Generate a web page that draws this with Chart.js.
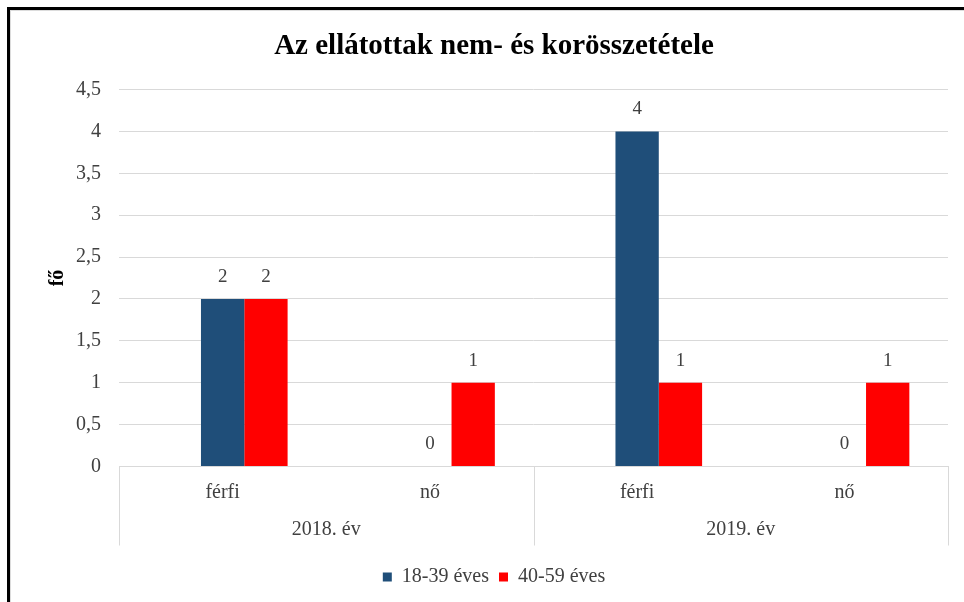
<!DOCTYPE html>
<html>
<head>
<meta charset="utf-8">
<script src="https://cdn.jsdelivr.net/npm/chart.js@4.4.1/dist/chart.umd.min.js"></script>
<style>
  html, body { margin: 0; padding: 0; background: #ffffff; }
  #wrap { width: 964px; height: 602px; position: relative; }
</style>
</head>
<body>
<div id="wrap"><canvas id="chart" width="964" height="602"></canvas></div>
<script>
// Data
const years = ['2018. év', '2019. év'];
const genders = ['férfi', 'nő'];
const categories = ['férfi', 'nő', 'férfi', 'nő'];
const age18to39 = [2, 0, 4, 0];
const age40to59 = [2, 1, 1, 1];
// empty leading slot of each cluster (no values, not in the legend)
const emptySlot = [null, null, null, null];
const seriesNames = ['18-39 éves', '40-59 éves'];
const yTicks = [0, 0.5, 1, 1.5, 2, 2.5, 3, 3.5, 4, 4.5];

const SERIF = '"Liberation Serif", "DejaVu Serif", serif';
const TEXT = '#404040';
const GRID = '#d9d9d9';

const fmt = v => String(v).replace('.', ',');

// Outer frame of the chart object
const framePlugin = {
  id: 'frame',
  beforeDraw(chart) {
    const ctx = chart.ctx;
    ctx.save();
    ctx.fillStyle = '#ffffff';
    ctx.fillRect(0, 0, chart.width, chart.height);
    ctx.fillStyle = '#000000';
    ctx.fillRect(7, 7, chart.width - 7, 3);
    ctx.fillRect(7, 7, 3, chart.height - 7);
    ctx.fillStyle = '#dcdcdc';
    ctx.fillRect(10, 10, chart.width - 10, 1);
    ctx.fillRect(10, 10, 1, chart.height - 10);
    ctx.restore();
  }
};

// Value labels above each bar
const valueLabels = {
  id: 'valueLabels',
  afterDatasetsDraw(chart) {
    const ctx = chart.ctx;
    ctx.save();
    ctx.font = '19px ' + SERIF;
    ctx.fillStyle = TEXT;
    ctx.textAlign = 'center';
    ctx.textBaseline = 'middle';
    chart.data.datasets.forEach((ds, di) => {
      chart.getDatasetMeta(di).data.forEach((el, i) => {
        const v = ds.data[i];
        if (v === null || v === undefined) return;
        ctx.fillText(fmt(v), el.x, el.y - 22);
      });
    });
    ctx.restore();
  }
};

// Second level of the category axis: year groups and their separators
const groupAxis = {
  id: 'groupAxis',
  afterDraw(chart) {
    const x = chart.scales.x;
    const ctx = chart.ctx;
    const top = x.top;
    const bottom = top + 79;
    const per = genders.length;
    ctx.save();
    ctx.strokeStyle = GRID;
    ctx.lineWidth = 1;
    for (let g = 0; g <= years.length; g++) {
      const px = Math.round(x.getPixelForValue(g * per - 0.5)) + 0.5;
      ctx.beginPath();
      ctx.moveTo(px, top);
      ctx.lineTo(px, bottom);
      ctx.stroke();
    }
    ctx.font = '20px ' + SERIF;
    ctx.fillStyle = TEXT;
    ctx.textAlign = 'center';
    ctx.textBaseline = 'middle';
    years.forEach((yr, g) => {
      const cx = (x.getPixelForValue(g * per - 0.5) + x.getPixelForValue((g + 1) * per - 0.5)) / 2;
      ctx.fillText(yr, cx, top + 63);
    });
    ctx.restore();
  }
};

const barOpts = { barPercentage: 1, categoryPercentage: 0.627 };

new Chart(document.getElementById('chart'), {
  type: 'bar',
  data: {
    labels: categories,
    datasets: [
      Object.assign({ label: '', data: emptySlot, backgroundColor: 'rgba(0,0,0,0)' }, barOpts),
      Object.assign({ label: seriesNames[0], data: age18to39, backgroundColor: '#1f4e79' }, barOpts),
      Object.assign({ label: seriesNames[1], data: age40to59, backgroundColor: '#ff0000' }, barOpts)
    ]
  },
  options: {
    responsive: false,
    animation: false,
    devicePixelRatio: 1,
    layout: { padding: { left: 40, right: 16, top: 0, bottom: 5 } },
    plugins: {
      title: {
        display: true,
        text: 'Az ellátottak nem- és korösszetétele',
        color: '#000000',
        font: { family: SERIF, size: 29, weight: 'bold' },
        padding: { top: 29, bottom: 25.7 }
      },
      legend: {
        position: 'bottom',
        labels: {
          boxWidth: 9,
          boxHeight: 9,
          padding: 10,
          color: TEXT,
          font: { family: SERIF, size: 20 },
          filter: item => item.text !== ''
        }
      },
      tooltip: { enabled: false }
    },
    scales: {
      x: {
        grid: { display: false },
        border: { display: true, color: GRID },
        ticks: { color: TEXT, font: { family: SERIF, size: 20 }, padding: 6, maxRotation: 0 },
        afterFit(s) { s.height = 90.5; }
      },
      y: {
        min: 0,
        max: 4.5,
        grid: { color: GRID, drawTicks: false },
        border: { display: false },
        ticks: { color: TEXT, font: { family: SERIF, size: 20 }, padding: 18, callback: v => fmt(v) },
        afterBuildTicks(s) { s.ticks = yTicks.map(v => ({ value: v })); },
        title: {
          display: true,
          text: 'fő',
          color: '#000000',
          font: { family: SERIF, size: 20, weight: 'bold' },
          padding: { top: 6, bottom: 0 }
        },
        afterFit(s) { s.width = 79; }
      }
    }
  },
  plugins: [framePlugin, valueLabels, groupAxis]
});
</script>
</body>
</html>
